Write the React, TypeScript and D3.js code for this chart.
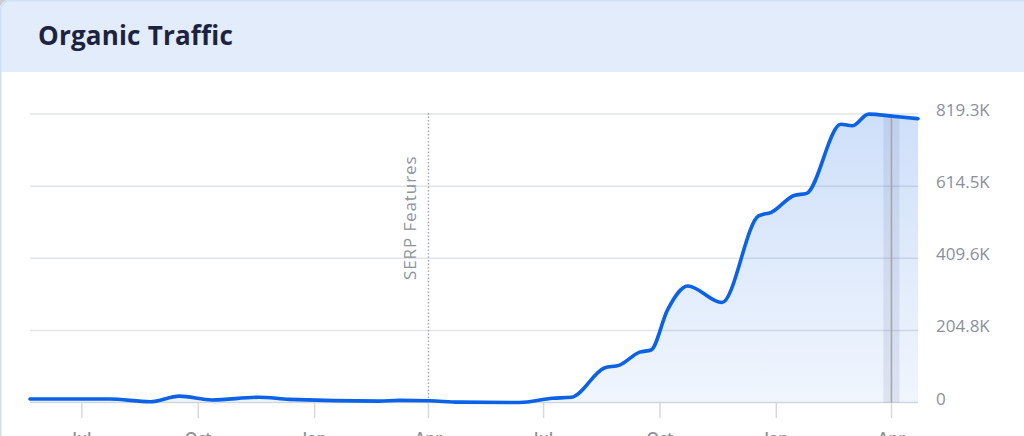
import React from "react";
import * as d3 from "d3";

// ---- data ----
const DATES = [
  "2022-05-21", "2022-07-23", "2022-08-24", "2022-09-16", "2022-10-12",
  "2022-11-18", "2022-12-12", "2023-02-21", "2023-03-09", "2023-04-02",
  "2023-04-25", "2023-06-12", "2023-07-08", "2023-07-23", "2023-08-18",
  "2023-08-30", "2023-09-15", "2023-09-24", "2023-10-07", "2023-10-23",
  "2023-11-19", "2023-12-18", "2023-12-28", "2024-01-15", "2024-01-25",
  "2024-02-21", "2024-03-01", "2024-03-14", "2024-04-02", "2024-04-22",
];
const TRAFFIC = [
  10000, 10000, 2000, 18000, 7000,
  15000, 9000, 4000, 6000, 5000,
  1000, 0, 12000, 15000, 98000,
  106000, 143000, 149000, 263000, 331000,
  284000, 530000, 540000, 588000, 594000,
  790000, 786000, 819000, 813000, 806000,
];
const Y_MAX = 819300;
const Y_TICK_LABELS = ["0", "204.8K", "409.6K", "614.5K", "819.3K"];
const TITLE = "Organic Traffic";
const EVENT_DATE = "2023-04-01";
const EVENT_LABEL = "SERP Features";
const HOVER_DATE = "2024-04-01";

const FONT = "'Open Sans', 'DejaVu Sans', sans-serif";

export default function App() {
  const W = 1024;
  const H = 436;
  const left = 30;
  const right = 918;
  const top = 114;
  const bottom = 402.5;

  const parse = d3.timeParse("%Y-%m-%d");
  const dates = DATES.map((d) => parse(d) as Date);
  const data = dates.map((d, i) => ({ date: d, value: TRAFFIC[i] }));

  const x = d3
    .scaleTime()
    .domain(d3.extent(dates) as [Date, Date])
    .range([left, right]);
  const y = d3.scaleLinear().domain([0, Y_MAX]).range([bottom, top]);

  const yTicks = Y_TICK_LABELS.map((_, i) => (Y_MAX * i) / (Y_TICK_LABELS.length - 1));
  const xTicks = x.ticks(d3.timeMonth.every(3) as d3.TimeInterval);
  const fmt = d3.timeFormat("%b");

  const line = d3
    .line<{ date: Date; value: number }>()
    .x((d) => x(d.date))
    .y((d) => y(d.value))
    .curve(d3.curveMonotoneX);
  const area = d3
    .area<{ date: Date; value: number }>()
    .x((d) => x(d.date))
    .y0(bottom)
    .y1((d) => y(d.value))
    .curve(d3.curveMonotoneX);

  const ex = x(parse(EVENT_DATE) as Date);
  const hx = x(parse(HOVER_DATE) as Date);

  return (
    <svg
      width={W}
      height={H}
      style={{ position: "absolute", left: 0, top: 0, display: "block" }}
    >
      <defs>
        <linearGradient id="areaGrad" x1="0" y1={top} x2="0" y2={bottom} gradientUnits="userSpaceOnUse">
          <stop offset="0" stopColor="#0a61e4" stopOpacity={0.2} />
          <stop offset="1" stopColor="#0a61e4" stopOpacity={0.06} />
        </linearGradient>
        <clipPath id="cardClip">
          <rect x={0} y={0} width={1200} height={600} rx={9} />
        </clipPath>
      </defs>
      <rect x={0} y={0} width={W} height={H} fill="#c9cdd4" />
      <g clipPath="url(#cardClip)">
        <rect x={0} y={0} width={1200} height={600} fill="#ffffff" />
        <rect x={0} y={0} width={1200} height={72} fill="#e3ecfb" />
      </g>
      <rect x={0.75} y={0.75} width={1200} height={600} rx={9} fill="none" stroke="#d2def4" strokeWidth={1.5} />
      <text x={38} y={45} fontFamily={FONT} fontWeight={700} fontSize={26} letterSpacing={0.2} fill="#1c2340">
        {TITLE}
      </text>

      {/* grid lines */}
      {yTicks.map((t, i) => (
        <line key={"g" + i} x1={left} x2={right} y1={y(t)} y2={y(t)} stroke={i === 0 ? "#d6d9de" : "#e2e4e8"} strokeWidth={1.5} />
      ))}
      {/* x tick marks */}
      {xTicks.map((t, i) => (
        <line key={"xt" + i} x1={x(t)} x2={x(t)} y1={bottom} y2={418} stroke="#d6d9de" strokeWidth={1.5} />
      ))}
      {xTicks.map((t, i) => (
        <text key={"xl" + i} x={x(t)} y={444} textAnchor="middle" fontFamily={FONT} fontWeight={600} fontSize={16} fill="#8c919b">
          {fmt(t)}
        </text>
      ))}

      {/* area */}
      <path d={area(data) || ""} fill="url(#areaGrad)" />

      {/* event annotation */}
      <line x1={ex} x2={ex} y1={113} y2={bottom} stroke="#a6aab2" strokeWidth={1.5} strokeDasharray="1.5 2" />
      <text
        transform={`translate(${ex - 12},280) rotate(-90)`}
        fontFamily={FONT}
        fontSize={17}
        fontWeight={500}
        letterSpacing={0.9}
        fill="#8e939c"
      >
        {EVENT_LABEL}
      </text>

      {/* hover band */}
      <rect x={hx - 8} y={top} width={16} height={bottom - top} fill="rgba(80,100,140,0.12)" />
      <line x1={hx} x2={hx} y1={top} y2={bottom} stroke="#a0a5ae" strokeWidth={1.5} />

      {/* line */}
      <path d={line(data) || ""} fill="none" stroke="#0b62e6" strokeWidth={3.6} strokeLinejoin="round" strokeLinecap="round" />

      {/* y labels */}
      {yTicks.map((t, i) => (
        <text key={"yl" + i} x={936} y={y(t) + 2} fontFamily={FONT} fontWeight={500} fontSize={17} fill="#8b909a">
          {Y_TICK_LABELS[i]}
        </text>
      ))}
    </svg>
  );
}
